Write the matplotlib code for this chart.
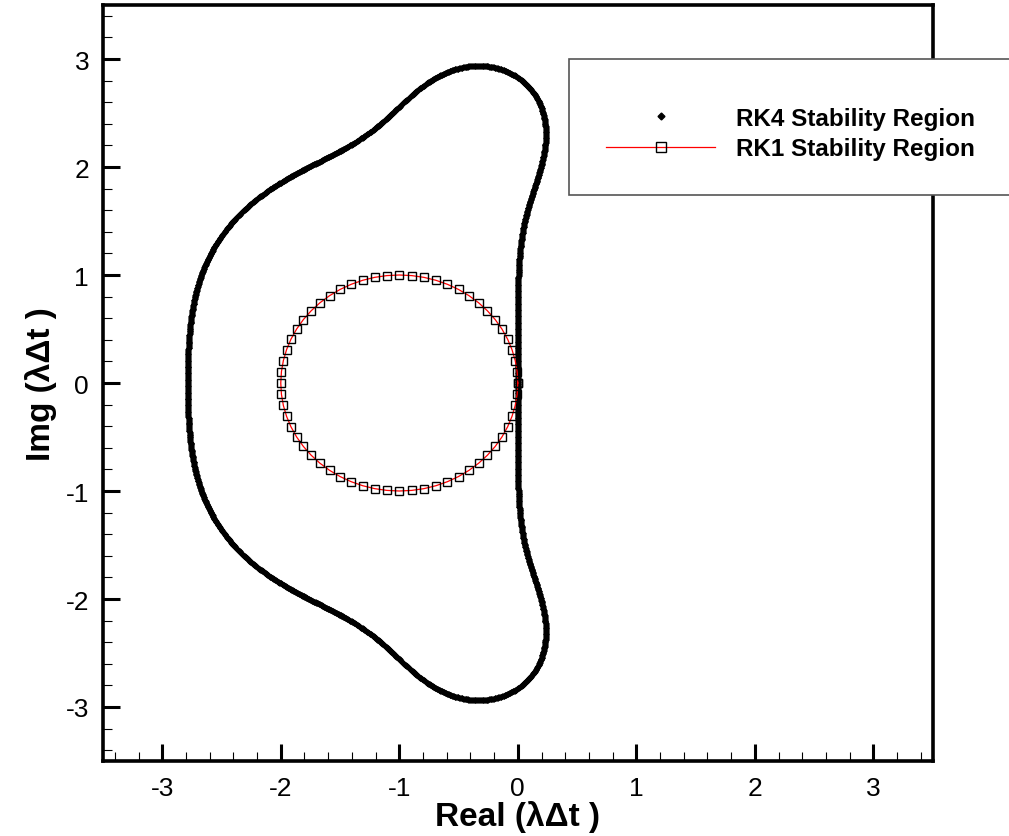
import matplotlib
matplotlib.use("Agg")
import matplotlib.pyplot as plt
import matplotlib.patches as mpatches
from matplotlib.lines import Line2D
from matplotlib.ticker import MultipleLocator
import numpy as np
from numpy.polynomial import Polynomial

plt.rcParams['font.family'] = ['Liberation Sans', 'DejaVu Sans']

# amplification polynomials R(z), ascending powers of z = lambda*dt
rk4_coeffs = [1.0, 1.0, 1.0 / 2, 1.0 / 6, 1.0 / 24]
rk1_center = -1.0
rk1_radius = 1.0
rk1_npts = 60

x_ticks = [-3, -2, -1, 0, 1, 2, 3]
y_ticks = [-3, -2, -1, 0, 1, 2, 3]
x_label = "Real (λΔt )"
y_label = "Img (λΔt )"
labels = ["RK4 Stability Region", "RK1 Stability Region"]


def unit_modulus_roots(coeffs, p):
    # real roots s of |R(p(s))|^2 - 1, p linear in s
    r = Polynomial([0j])
    for k, c in enumerate(coeffs):
        r = r + c * p ** k
    q = r * Polynomial(np.conj(r.coef)) - 1.0
    roots = np.roots(np.real(q.coef)[::-1])
    return [rt.real for rt in roots if abs(rt.imag) < 2e-3]


def stability_boundary(coeffs, scan):
    pts_x, pts_y = [], []
    for y in scan:  # rows: fixed Im(z)
        for s in unit_modulus_roots(coeffs, Polynomial([1j * y, 1.0])):
            pts_x.append(s)
            pts_y.append(y)
    for x in scan:  # columns: fixed Re(z)
        for s in unit_modulus_roots(coeffs, Polynomial([x, 1j])):
            pts_x.append(x)
            pts_y.append(s)
    return np.array(pts_x), np.array(pts_y)


scan = np.arange(-3.2, 3.2, 0.008)
rk4_x, rk4_y = stability_boundary(rk4_coeffs, scan)

theta = np.linspace(0, 2 * np.pi, rk1_npts + 1)
rk1_x = rk1_center + rk1_radius * np.cos(theta)
rk1_y = rk1_radius * np.sin(theta)

fig = plt.figure(figsize=(10.09, 8.37), dpi=100)
ax = fig.add_axes([103 / 1009, 1 - 762 / 837, (932.6 - 103) / 1009, (762 - 6) / 837])

ax.plot(rk4_x, rk4_y, linestyle='none', marker='D', markersize=2.8,
        color='black', markeredgewidth=0.6)
ax.plot(rk1_x, rk1_y, color='red', linewidth=0.9, marker='s', markersize=6.3,
        markerfacecolor='none', markeredgecolor='black', markeredgewidth=1.0)

ax.set_xlim(-3.5, 3.5)
ax.set_ylim(-3.5, 3.5)
ax.set_xticks(x_ticks)
ax.set_yticks(y_ticks)
ax.set_xticklabels([str(t) for t in x_ticks])
ax.set_yticklabels([str(t) for t in y_ticks])
ax.xaxis.set_minor_locator(MultipleLocator(0.2))
ax.yaxis.set_minor_locator(MultipleLocator(0.2))
ax.tick_params(which='major', direction='in', length=12, width=2.2,
               labelsize=19, top=False, right=False)
ax.tick_params(axis='x', which='major', pad=11)
ax.tick_params(axis='y', which='major', pad=10)
ax.tick_params(which='minor', direction='in', length=6.5, width=0.8,
               top=False, right=False)
for sp in ax.spines.values():
    sp.set_linewidth(2.6)

ax.set_xlabel(x_label, fontsize=24, fontweight='bold', labelpad=0)
ax.set_ylabel(y_label, fontsize=24, fontweight='bold', labelpad=6)

# legend box runs past the right spine to the figure edge
box = mpatches.Rectangle((569 / 1009, 1 - 196 / 837), 0.5, 136 / 837,
                         transform=fig.transFigure, facecolor='white',
                         edgecolor='#555555', linewidth=1.2, zorder=3)
fig.patches.append(box)

handles = [
    Line2D([], [], linestyle='none', marker='D', markersize=3.5, color='black'),
    Line2D([], [], color='red', linewidth=0.9, marker='s', markersize=6.5,
           markerfacecolor='none', markeredgecolor='black', markeredgewidth=1.0),
]
leg = fig.legend(handles, labels, loc='center left',
                 bbox_to_anchor=(606 / 1009, 1 - 134.5 / 837),
                 frameon=False, borderpad=0, borderaxespad=0,
                 handlelength=4.5, handletextpad=0.85, labelspacing=0.3,
                 prop={'size': 17.5, 'weight': 'bold'})
leg.set_zorder(4)

fig.savefig('out.png', dpi=100)
